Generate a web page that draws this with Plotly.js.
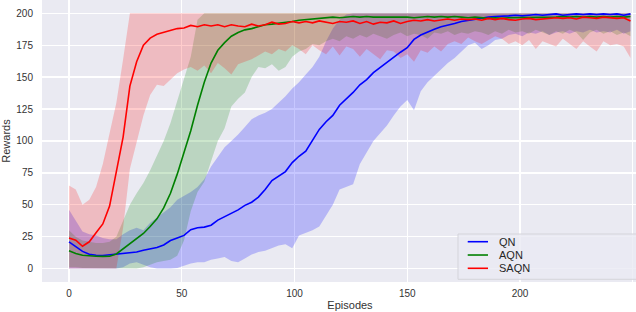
<!DOCTYPE html>
<html><head><meta charset="utf-8">
<script src="https://cdn.plot.ly/plotly-3.0.1.min.js"></script>
<style>html,body{margin:0;padding:0;overflow:hidden;width:636px;height:312px;background:#fff}#chart{width:662px;height:312px}</style>
</head><body><div id="chart"></div>
<script>
const episodes = [0,3,6,9,12,15,18,21,24,27,30,33,
36,39,42,45,48,51,54,57,60,63,66,69,
72,75,78,81,84,87,90,93,96,99,102,105,
108,111,114,117,120,123,126,129,132,135,138,141,
144,147,150,153,156,159,162,165,168,171,174,177,
180,183,186,189,192,195,198,201,204,207,210,213,
216,219,222,225,228,231,234,237,240,243,246,249];

const qnMean = [20.9,17.5,13.5,11.2,10.4,10.2,10.8,11.5,12.3,12.5,13.0,14.3,
15.5,16.5,18.5,22.0,24.0,26.0,30.5,32.0,32.5,34.0,38.0,40.5,
43.5,46.0,49.5,52.0,56.0,62.0,69.0,72.5,76.0,83.0,88.0,92.0,
100,109,115,120,128,133,138,144,148,153.5,157.5,162,
165.5,169.5,173,179.5,183,185.5,187.5,189.5,190.5,192,193.5,194.5,
195.5,196.5,197,197.5,197.5,198,198.5,198,198.5,199,198.5,199,
199.5,198.5,199,199.5,199,199.5,199,199.5,199,199.5,198.5,199.5];
const qnUpper = [46,37,29,27,26,24,23,23,27,30,32,30,
36,40,44,48,54,57,60,64,70,80,88,95,
100,105,111,117,120,122,125,130,135,141,146,152,
158,166,178,188,195,199,200,200,200,200,200,200,
200,200,200,200,200,200,200,200,200,200,200,200,
200,200,200,200,200,200,200,200,200,200,200,200,
200,200,200,200,200,200,200,200,200,200,200,200];
const qnLower = [0,0,0,0,0,0,0,0,1,4,5,3,
1,0,0,0,0.5,2.5,4,5,5,7,8,9,
6,5,8,11,13,14,16,18,19,16,26,28,
30,33,42,50,62,64,66,82,91,100,106,112,
120,127,132,124,139,146,151,156,161,165,170,175,
177,172,175,179,180,183,184,182,185,184,186,183,
185,186,184,186,185,187,185,186,185,187,184,186];

const aqnMean = [13.9,11.8,10.5,10.0,9.7,9.6,9.7,11.5,15.5,20.0,23.5,27.5,
33,39,47.5,59,74,91,108,128,146,161,171,177,
182,185,187,188,189.5,191,191.5,192,192.5,193.5,194.5,195,
195.5,196,196.5,197,196.5,197,197.5,197,197.5,197,197,197.5,
197,197.5,197,196.5,197,197.5,197,197.5,197,197.5,197,196.5,
197,196.5,196,196.5,196,196.5,196.5,197,196.5,197,197,196.5,
197,197.5,197,197.5,197,197.5,197,197.5,197,197.5,197,197.5];
const aqnUpper = [30,25,22,21,20,20,21,25,38,50,59,67,
77,88,100,114,131,150,166,195,200,200,200,200,
200,200,200,200,200,200,200,200,200,200,200,200,
200,200,200,200,200,200,200,200,200,200,200,200,
200,200,200,200,200,200,200,200,200,200,200,200,
200,200,200,200,200,200,200,200,200,200,200,200,
200,200,200,200,200,200,200,200,200,200,200,200];
const aqnLower = [1,1,0.5,0.5,0.5,0.5,0.5,0.5,0,0,0,1,
3,5,6,7,10,22,45,60,68,84,100,110,
127,133,138,150,158,157,160,155,158,166,170,172,
176,175,178,180,178,182,180,183,181,184,182,180,
183,185,182,184,183,180,185,184,186,183,185,184,
186,185,183,186,184,187,185,186,184,187,185,183,
186,184,187,185,179,185,187,184,186,183,185,182];

const saqnMean = [24,22.3,17.5,21,28,35,49,75,103,143,162,175,
180.5,183.5,185,186.5,188,188.5,190.5,189.5,191,190,191,189.5,
191,190,189.5,191.5,190,191,193,191.5,192,193.5,192.5,193.5,
192.5,194,193,192,193.5,193,194,192,193.5,191.5,193,192.5,
194,192,193.5,194.5,194,195,194,195,195.5,194.5,195.5,195,
195.5,194.5,196,195,196,195,194.5,195.5,196,195,195.5,196,
196.5,196,196.5,195.5,197,196.5,196,197,196.5,196,196.5,194];
const saqnUpper = [65,62,50,54,64,82,106,130,164,200,200,200,
200,200,200,200,200,200,200,200,200,200,200,200,
200,200,200,200,200,200,200,200,200,200,200,200,
200,200,200,200,200,200,200,200,200,200,200,200,
200,200,200,200,200,200,200,200,200,200,200,200,
200,200,200,200,200,200,200,200,200,200,200,200,
200,200,200,200,200,200,200,200,200,200,200,200];
const saqnLower = [0,0,0,0,0,0,0,0,32,78,98,120,
136,144,143,148,153,156,158,155,159,153,161,157,
152,160,162,164,167,170,168,172,170,175,172,168,
175,171,168,174,167,174,172,166,172,168,164,171,
170,165,168,162,171,169,174,170,176,178,176,181,
178,176,179,182,180,176,178,175,179,172,178,176,
174,180,176,172,178,174,170,178,175,176,174,165];

const seriesNames = ['QN','AQN','SAQN'];
const lineColors = ['#0000ff','#008000','#ff0000'];
const bandColors = ['rgba(0,0,255,0.22)','rgba(0,128,0,0.2)','rgba(255,0,0,0.2)'];
const xTicks = [0,50,100,150,200,250];
const xTickText = ['0','50','100','150','200',''];
const yTicks = [0,25,50,75,100,125,150,175,200];

const means = [qnMean, aqnMean, saqnMean];
const uppers = [qnUpper, aqnUpper, saqnUpper];
const lowers = [qnLower, aqnLower, saqnLower];

const traces = [];
for (let i = 0; i < 3; i++) {
  traces.push({
    type:'scatter', mode:'lines',
    x: episodes.concat(episodes.slice().reverse()),
    y: uppers[i].concat(lowers[i].slice().reverse()),
    fill:'toself', fillcolor: bandColors[i],
    line:{width:0, color: bandColors[i]},
    hoverinfo:'skip', showlegend:false
  });
}
for (let i = 0; i < 3; i++) {
  traces.push({
    type:'scatter', mode:'lines', name: seriesNames[i],
    x: episodes, y: means[i],
    line:{color: lineColors[i], width:1.6},
    showlegend:false
  });
}

const fam = '"Liberation Sans", Arial, sans-serif';
// hand-drawn legend (box, sample lines, labels) in paper coordinates
const legRowsY = [0.1429, 0.0957, 0.0486];
const shapes = [{
  type:'rect', xref:'paper', yref:'paper', layer:'above',
  x0:0.6753, x1:1.0, y0:0.0096, y1:0.1702,
  fillcolor:'rgba(234,234,242,0.8)', line:{color:'#d4d4da', width:1}
}];
const annotations = [];
for (let i = 0; i < 3; i++) {
  shapes.push({type:'line', xref:'paper', yref:'paper', layer:'above',
    x0:0.6911, x1:0.7240, y0:legRowsY[i], y1:legRowsY[i],
    line:{color: lineColors[i], width:1.6}});
  annotations.push({xref:'paper', yref:'paper', x:0.7385, y:legRowsY[i],
    xanchor:'left', yanchor:'middle', showarrow:false, text: seriesNames[i],
    font:{family:fam, size:11, color:'#262626'}});
}

const layout = {
  width:662, height:312,
  margin:{l:42, r:4, t:0, b:30, pad:0},
  paper_bgcolor:'#ffffff', plot_bgcolor:'#eaeaf2',
  font:{family:fam, size:10, color:'#333'},
  showlegend:false,
  xaxis:{
    range:[-11.97, 261.2], tickvals:xTicks, ticktext:xTickText,
    showgrid:true, gridcolor:'#ffffff', gridwidth:1.3, zeroline:false,
    showline:false, ticks:'', ticklabelstandoff:4,
    tickfont:{family:fam, size:10, color:'#333'},
    title:{text:'Episodes', font:{family:fam, size:11, color:'#333'}, standoff:3}
  },
  yaxis:{
    range:[-10.5, 210.4], tickvals:yTicks,
    showgrid:true, gridcolor:'#ffffff', gridwidth:1.3, zeroline:false,
    showline:false, ticks:'', ticklabelstandoff:8,
    tickfont:{family:fam, size:10, color:'#333'},
    title:{text:'Rewards', font:{family:fam, size:11, color:'#333'}, standoff:3}
  },
  shapes: shapes,
  annotations: annotations
};
Plotly.newPlot('chart', traces, layout, {displayModeBar:false, staticPlot:true});
</script>
</body></html>
